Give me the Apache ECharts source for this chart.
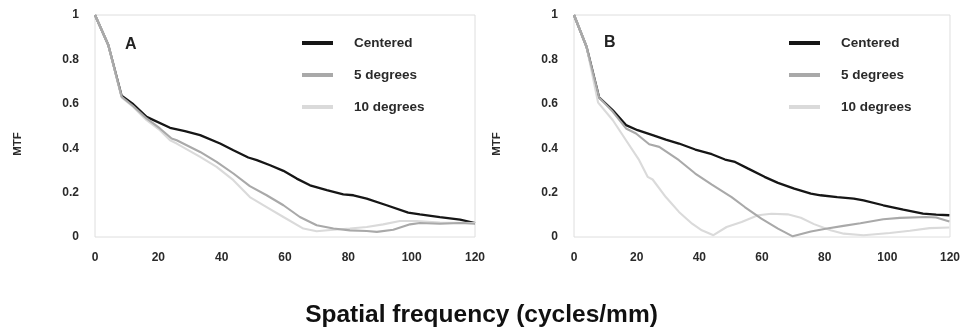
<!DOCTYPE html>
<html>
<head>
<meta charset="utf-8">
<script src="https://cdn.jsdelivr.net/npm/echarts@6/dist/echarts.min.js"></script>
<style>html,body{margin:0;padding:0;background:#fff}#c{width:963px;height:332px}</style>
</head>
<body>
<div id="c"></div>
<script>
// ---- data (x = spatial frequency in cycles/mm, y = MTF) ----
const seriesNames = ['Centered', '5 degrees', '10 degrees'];
const panelLabels = ['A', 'B'];
const yTicks = [0, 0.2, 0.4, 0.6, 0.8, 1];
const xTicks = [0, 20, 40, 60, 80, 100, 120];
const xAxisTitle = 'Spatial frequency (cycles/mm)';
const yAxisTitle = 'MTF';

const centeredA = [[0,1],[4.2,0.865],[8.4,0.636],[12.1,0.598],[16.3,0.541],[23.7,0.492],[28.4,0.477],[33.2,0.459],[39.5,0.421],[43.7,0.391],[48.4,0.358],[51.1,0.346],[55.3,0.323],[59.5,0.298],[63.7,0.263],[67.9,0.233],[73.2,0.211],[78.4,0.192],[81.6,0.188],[85.8,0.173],[92.1,0.143],[98.9,0.110],[102.6,0.102],[108.9,0.090],[115.3,0.078],[120,0.063]];
const deg5A = [[0,1],[4.2,0.865],[8.4,0.632],[12.1,0.589],[16.3,0.534],[20.5,0.489],[24.2,0.444],[25.8,0.436],[33.2,0.383],[38.4,0.338],[43.7,0.286],[48.9,0.229],[54.2,0.188],[59.5,0.143],[64.7,0.090],[70,0.053],[75.3,0.038],[80.5,0.030],[85.8,0.027],[89,0.023],[94.2,0.033],[99.5,0.057],[102.6,0.063],[108.9,0.060],[115.3,0.063],[120,0.060]];
const deg10A = [[0,1],[4.2,0.865],[8.4,0.629],[12.1,0.586],[16.3,0.526],[20.5,0.481],[23.7,0.436],[25.8,0.421],[33.2,0.361],[38.4,0.316],[43.7,0.256],[48.9,0.180],[54.2,0.135],[59.5,0.090],[65.8,0.038],[70,0.026],[75.3,0.033],[80.5,0.038],[85.8,0.045],[91,0.057],[96.3,0.072],[101.6,0.072],[108.9,0.065],[120,0.063]];

const centeredB = [[0,1],[4,0.857],[8,0.629],[12.4,0.571],[16.6,0.504],[20.3,0.481],[25.1,0.459],[29.3,0.439],[33.5,0.421],[38.7,0.394],[44,0.373],[48.2,0.349],[51.4,0.338],[55.6,0.308],[60.8,0.271],[65.1,0.244],[70.3,0.218],[75.6,0.195],[78.7,0.188],[84,0.180],[89.3,0.173],[92.4,0.165],[98.7,0.143],[105.1,0.123],[111.4,0.105],[115.6,0.101],[119.8,0.098]];
const deg5B = [[0,1],[4,0.857],[8,0.629],[12.4,0.564],[16.6,0.489],[19.8,0.466],[24,0.418],[27.2,0.406],[33.5,0.346],[38.7,0.286],[44,0.236],[50.3,0.180],[54.5,0.135],[59.8,0.083],[65.1,0.038],[69.8,0.003],[75.6,0.025],[80.8,0.038],[86,0.050],[91.4,0.062],[98.7,0.080],[104,0.086],[112.4,0.090],[115.6,0.088],[119.8,0.070]];
const deg10B = [[0,1],[4,0.857],[7.7,0.605],[12.4,0.526],[16.6,0.436],[20.8,0.346],[23.5,0.271],[25.1,0.259],[29.3,0.180],[33.5,0.113],[37.7,0.060],[40.8,0.030],[44.5,0.008],[48.7,0.045],[53.5,0.068],[58.7,0.098],[63,0.105],[68.2,0.102],[72.4,0.087],[76.6,0.058],[81.9,0.030],[86.1,0.015],[92.4,0.008],[100.8,0.018],[107.2,0.028],[113.5,0.040],[119.8,0.043]];

// ---- chart ----
const FONT = "'Liberation Sans', Arial, sans-serif";
const colors = {'Centered': '#161616', '5 degrees': '#a9a9a9', '10 degrees': '#dadada'};
const chart = echarts.init(document.getElementById('c'), null, {renderer: 'canvas'});

const grids = [
  {left: 95, top: 15, width: 380, height: 222},
  {left: 574, top: 15, width: 380, height: 222}
];
function xAx(i) {
  return {
    gridIndex: i, type: 'value', min: xTicks[0], max: xTicks[xTicks.length - 1], interval: 20,
    axisLine: {show: false}, axisTick: {show: false}, splitLine: {show: false},
    axisLabel: {margin: 15, fontSize: 12, fontWeight: 'bold', color: '#2a2a2a', fontFamily: FONT,
      customValues: xTicks}
  };
}
function yAx(i) {
  return {
    gridIndex: i, type: 'value', min: yTicks[0], max: yTicks[yTicks.length - 1], interval: 0.2,
    name: yAxisTitle, nameLocation: 'middle', nameRotate: 90, nameGap: 71,
    nameTextStyle: {fontSize: 11.5, fontWeight: 'bold', color: '#2a2a2a', fontFamily: FONT,
      padding: [0, 36, 0, 0]},
    axisLine: {show: false}, axisTick: {show: false}, splitLine: {show: false},
    axisLabel: {margin: 16, fontSize: 12, fontWeight: 'bold', color: '#2a2a2a', fontFamily: FONT,
      customValues: yTicks}
  };
}
function line(name, data, idx) {
  return {
    name, type: 'line', data, xAxisIndex: idx, yAxisIndex: idx,
    showSymbol: false, symbol: 'none', smooth: false, silent: true,
    lineStyle: {color: colors[name], width: name === 'Centered' ? 2.3 : 2.1},
    itemStyle: {color: colors[name]}
  };
}
function legend(left) {
  return {
    left, top: 35, padding: 0, orient: 'vertical', data: seriesNames, icon: 'rect',
    itemWidth: 31, itemHeight: 4, itemGap: 16, selectedMode: false,
    textStyle: {fontSize: 13.5, fontWeight: 'bold', color: '#2a2a2a', fontFamily: FONT,
      lineHeight: 16, padding: [0, 0, 0, 16]}
  };
}

chart.setOption({
  animation: false,
  backgroundColor: '#fff',
  title: [
    {text: panelLabels[0], left: 120, top: 32, textStyle: {fontSize: 16, fontWeight: 'bold', color: '#222', fontFamily: FONT}},
    {text: panelLabels[1], left: 599, top: 30, textStyle: {fontSize: 16, fontWeight: 'bold', color: '#222', fontFamily: FONT}},
    {text: xAxisTitle, left: 'center', top: 298, textStyle: {fontSize: 24.5, fontWeight: 'bold', color: '#111', fontFamily: FONT}}
  ],
  legend: [legend(302), legend(789)],
  grid: grids.map(g => Object.assign({show: true, borderColor: '#dedede', borderWidth: 1, backgroundColor: 'transparent'}, g)),
  xAxis: [xAx(0), xAx(1)],
  yAxis: [yAx(0), yAx(1)],
  series: [
    line('Centered', centeredA, 0), line('10 degrees', deg10A, 0), line('5 degrees', deg5A, 0),
    line('Centered', centeredB, 1), line('10 degrees', deg10B, 1), line('5 degrees', deg5B, 1)
  ]
});
</script>
</body>
</html>
